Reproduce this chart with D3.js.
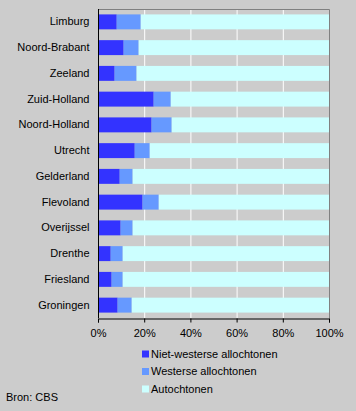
<!DOCTYPE html>
<html><head><meta charset="utf-8">
<script src="https://cdn.jsdelivr.net/npm/d3@7"></script>
<style>
html,body{margin:0;padding:0;background:#cccccc;}
svg{display:block;font-family:"Liberation Sans",Arial,sans-serif;}
</style></head>
<body>
<svg id="chart" width="356" height="411"></svg>
<script>
const categories = ["Limburg","Noord-Brabant","Zeeland","Zuid-Holland","Noord-Holland","Utrecht","Gelderland","Flevoland","Overijssel","Drenthe","Friesland","Groningen"];
const nietWesters = [8.1, 11.1, 7.2, 24.1, 23.2, 15.9, 9.4, 19.3, 9.8, 5.5, 5.9, 8.5];
const westers     = [10.4, 6.5, 9.5, 7.4, 8.7, 6.5, 5.6, 7.0, 5.2, 5.2, 4.8, 6.1];
const seriesNames = ["Niet-westerse allochtonen","Westerse allochtonen","Autochtonen"];
const colors = ["#3333ff","#6699ff","#ccffff"];
const tickValues = [0,20,40,60,80,100];

const rows = categories.map((c,i)=>({cat:c, a:nietWesters[i], b:westers[i], c:100-nietWesters[i]-westers[i]}));
const stack = d3.stack().keys(["a","b","c"])(rows);

const svg = d3.select("#chart");
const pL=98, pR=329, pT=9, pB=318;
const x = d3.scaleLinear().domain([0,100]).range([pL,pR]);
const y = d3.scaleBand().domain(categories).range([pT,pB]).paddingInner(0.42).paddingOuter(0.21);

// gridlines
svg.append("g").selectAll("line").data(tickValues.filter(t=>t>0&&t<100)).join("line")
  .attr("x1",d=>x(d)+0.5).attr("x2",d=>x(d)+0.5).attr("y1",pT).attr("y2",pB)
  .attr("stroke","#ffffff").attr("stroke-width",1);

// bars
svg.append("g").selectAll("g").data(stack).join("g")
  .attr("fill",(d,i)=>colors[i])
  .selectAll("rect").data(d=>d).join("rect")
  .attr("x",d=>x(d[0])).attr("width",d=>x(d[1])-x(d[0]))
  .attr("y",d=>y(d.data.cat)).attr("height",y.bandwidth());

// frame top/right
svg.append("path").attr("d",`M${pL},${pT+0.5}H${pR+0.5}V${pB}`)
  .attr("fill","none").attr("stroke","#808080");

// x axis
const xAxis = svg.append("g").attr("transform",`translate(0,${pB+0.5})`)
  .call(d3.axisBottom(x).tickValues(tickValues).tickFormat(d=>d+"%").tickSize(4).tickPadding(7));
xAxis.select(".domain").attr("stroke","#000");
xAxis.selectAll("text").attr("font-size","11px").attr("fill","#000").attr("font-family","Liberation Sans, Arial, sans-serif");

// y axis
const yAxis = svg.append("g").attr("transform",`translate(${pL+0.5},0)`)
  .call(d3.axisLeft(y).tickSize(0).tickPadding(9));
yAxis.select(".domain").attr("stroke","#000").attr("d",`M0,${pT}V${pB}`);
yAxis.selectAll("text").attr("font-size","11px").attr("fill","#000").attr("font-family","Liberation Sans, Arial, sans-serif");

// legend
const lg = svg.append("g");
seriesNames.forEach((n,i)=>{
  const cy = 354 + i*17.5;
  lg.append("rect").attr("x",142).attr("y",cy-3.5).attr("width",7).attr("height",7).attr("fill",colors[i]);
  lg.append("text").attr("x",151).attr("y",cy).attr("dy","0.35em").attr("font-size","11px").text(n);
});

svg.append("text").attr("x",6).attr("y",397).attr("dy","0.35em").attr("font-size","11px").text("Bron: CBS");
</script>
</body></html>
